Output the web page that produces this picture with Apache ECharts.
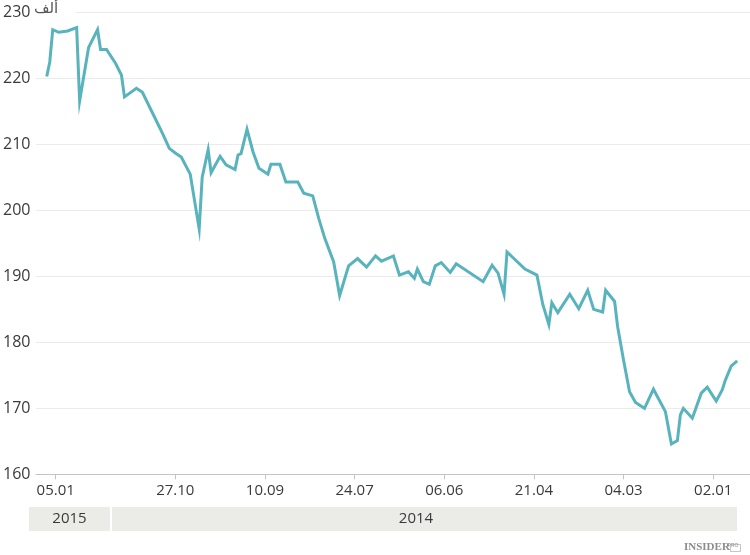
<!DOCTYPE html>
<html><head><meta charset="utf-8">
<script src="https://cdn.jsdelivr.net/npm/echarts@6/dist/echarts.min.js"></script>
<style>html,body{margin:0;padding:0;background:#fff}#c{width:750px;height:555px}</style>
</head><body><div id="c"></div>
<script>
// trading-day index (0 = earliest, right side of reversed axis)
const dayIndex = [0,2,4,5,7,10,12,15,18,19,20,22,24,28,31,34,36,38,40,41,44,45,48,50,53,56,60,62,63,65,67,71,77,78,80,82,85,94,96,99,101,103,105,107,108,110,113,115,119,121,124,127,130,133,135,138,140,142,145,147,151,153,156,157,160,162,164,166,167,168,171,173,176,177,179,180,183,186,188,190,192,195,199,201,205,206,208,211,213,214,217,220,221,224,227,229,230,231];
const values = [177.2,176.4,174.2,172.8,171.1,173.2,172.3,168.5,170.0,169.0,165.1,164.6,169.5,172.9,170.0,170.9,172.5,177.3,182.4,186.2,187.9,184.6,185.0,187.9,185.1,187.3,184.5,186.0,182.7,185.7,190.2,191.1,193.7,187.3,190.5,191.7,189.2,191.9,190.6,192.1,191.6,188.8,189.2,191.1,189.7,190.7,190.2,193.1,192.3,193.1,191.4,192.7,191.6,187.1,192.2,195.8,198.8,202.2,202.6,204.3,204.3,207.0,207.0,205.5,206.4,208.9,212.3,208.6,208.4,206.2,206.9,208.2,205.7,209.2,205.0,197.2,205.5,208.1,208.7,209.4,211.4,214.2,217.9,218.5,217.2,220.5,222.3,224.4,224.4,227.4,224.7,216.6,227.7,227.2,227.0,227.4,222.5,220.3];
const tickIndex = [8,38,68,98,128,158,188,228];
const tickLabels = ['02.01','04.03','21.04','06.06','24.07','10.09','27.10','05.01'];
const yearLabels = ['2015','2014'];
const yMin = 160, yMax = 230, yStep = 10;
const unitLabel = 'ألف';

const chart = echarts.init(document.getElementById('c'), null, {renderer:'canvas'});
const labelMap = {};
tickIndex.forEach((t,i)=>{labelMap[t]=tickLabels[i];});
const lineColor = '#58b3bd';
const textColor = '#3a3a3a';

chart.setOption({
  animation:false,
  backgroundColor:'#fff',
  grid:{left:35,right:0,top:12.5,bottom:80.7,containLabel:false},
  xAxis:{
    type:'value', inverse:true, min:-4.3, max:234.6,
    splitLine:{show:false},
    axisLine:{show:true,lineStyle:{color:'#c4c4c4',width:1}},
    axisTick:{show:true,customValues:tickIndex,length:5,lineStyle:{color:'#c4c4c4'}},
    axisLabel:{show:true,customValues:tickIndex,margin:9,color:textColor,fontSize:15,
      fontFamily:'Open Sans',formatter:v=>labelMap[v]||''}
  },
  yAxis:{
    type:'value', min:yMin, max:yMax, interval:yStep,
    axisLine:{show:false}, axisTick:{show:false},
    splitLine:{show:true,lineStyle:{color:'#ebebeb',width:1}},
    axisLabel:{align:'left',margin:33,color:textColor,fontSize:16,fontFamily:'Open Sans',
      padding:[0,0,7,0]}
  },
  series:[{
    type:'line', data:dayIndex.map((t,i)=>[t,values[i]]),
    showSymbol:false, symbol:'none',
    lineStyle:{color:lineColor,width:3,join:'miter'},
    z:5
  }],
  graphic:[
    {type:'rect',left:34,top:8,z:50,shape:{width:42,height:9},style:{fill:'#fff'}},
    {type:'text',left:34,top:2,z:51,style:{text:unitLabel,fill:'#555',font:'15px "DejaVu Sans"'}},
    {type:'rect',left:29,top:507,shape:{width:81,height:24},style:{fill:'#ebebe8'}},
    {type:'rect',left:112,top:507,shape:{width:625,height:24},style:{fill:'#ebebe8'}},
    {type:'text',x:69.5,y:519,style:{text:yearLabels[0],fill:textColor,font:'15px "Open Sans"',align:'center',verticalAlign:'middle'}},
    {type:'text',x:416,y:519,style:{text:yearLabels[1],fill:textColor,font:'15px "Open Sans"',align:'center',verticalAlign:'middle'}},
    {type:'text',x:684,y:547,style:{text:'INSIDER',fill:'#8c8c8c',font:'bold 11px "Liberation Serif"',verticalAlign:'middle'}},
    {type:'rect',left:728,top:542,shape:{width:10,height:7},style:{fill:'none',stroke:'#a0a0a0',lineWidth:0.6}},
    {type:'text',x:733,y:545.5,style:{text:'PRO',fill:'#8c8c8c',font:'5px "Liberation Sans"',align:'center',verticalAlign:'middle'}}
  ]
});
</script></body></html>
